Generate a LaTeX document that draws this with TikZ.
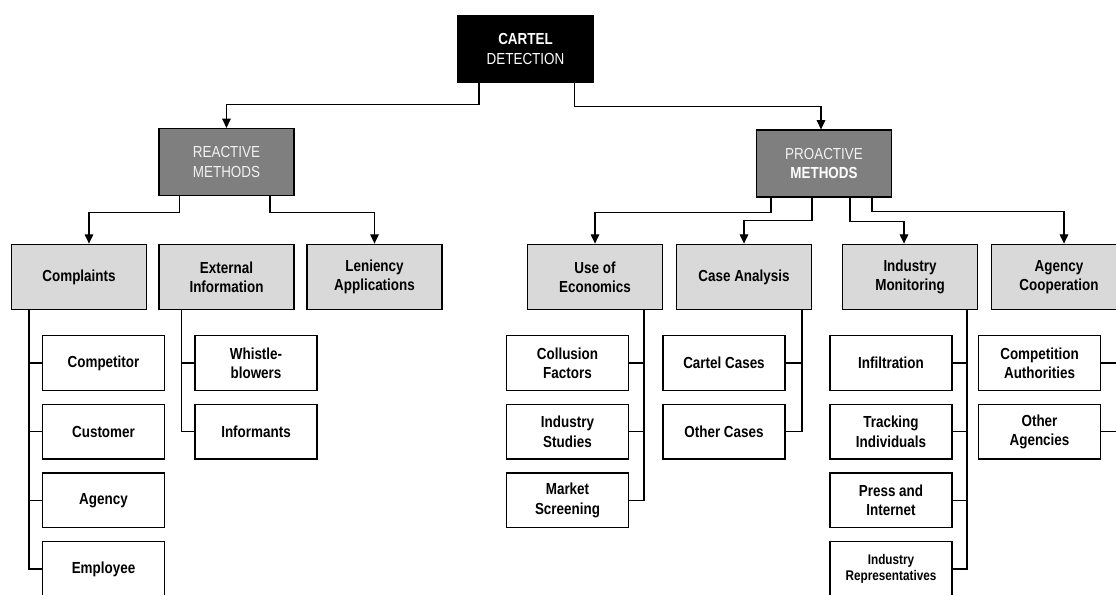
\documentclass[tikz,border=0pt]{standalone}
\usepackage{fontspec}
\setmainfont[FakeStretch=0.84]{Liberation Sans}
\usepackage{tikz}
\usetikzlibrary{positioning, arrows.meta}
\definecolor{methodgray}{HTML}{7F7F7F}
\definecolor{catgray}{HTML}{D9D9D9}
\tikzstyle{base} = [rectangle, draw, line width=1.1pt, align=center, inner sep=2pt, font=\fontsize{12}{14.5}\selectfont]
\tikzstyle{top} = [base, fill=black, text=white, minimum width=101pt, minimum height=50pt]
\tikzstyle{method} = [base, fill=methodgray, text=gray!10, minimum width=101pt, minimum height=50pt]
\tikzstyle{category} = [base, fill=catgray, minimum width=101pt, minimum height=49pt, font=\fontsize{12}{14.5}\selectfont\bfseries]
\tikzstyle{item} = [base, fill=white, minimum width=91.5pt, minimum height=41pt, font=\fontsize{12}{14.5}\selectfont\bfseries]
\tikzstyle{arrow} = [line width=0.8pt, -{Triangle[length=7pt,width=6.5pt]}]
\tikzstyle{branch} = [line width=0.8pt]

\begin{document}
\begin{tikzpicture}[x=0.75pt, y=-0.75pt, node distance=9.4pt]

  \clip (0,0) rectangle (1116,595);

  % Root
  \node (cartel) [top] at (525.5,49) {\textbf{CARTEL}\\DETECTION};

  % Methods
  \node (reactive) [method] at (226.5,162) {REACTIVE\\METHODS};
  \node (proactive) [method] at (824,163.5) {PROACTIVE\\\textbf{\color{white}METHODS}};

  % Reactive categories
  \node (complaints) [category] at (79,277) {Complaints};
  \node (extinfo) [category] at (226.5,277) {External\\Information};
  \node (leniency) [category] at (374.5,277) {Leniency\\Applications};

  % Proactive categories
  \node (economics) [category] at (595,277) {Use of\\Economics};
  \node (caseanalysis) [category] at (744,277) {Case Analysis};
  \node (indmon) [category] at (910,277) {Industry\\Monitoring};
  \node (agencycoop) [category] at (1059,277) {Agency\\Cooperation};

  % Complaints items
  \node (competitor) [item] at (103.5,363) {Competitor};
  \node (customer) [item, below=of competitor] {Customer};
  \node (agency) [item, below=of customer] {Agency};
  \node (employee) [item, below=of agency] {Employee};

  % External information items
  \node (whistle) [item] at (256,363) {Whistle-\\blowers};
  \node (informants) [item, below=of whistle] {Informants};

  % Economics items
  \node (collusion) [item] at (567.5,363) {Collusion\\Factors};
  \node (studies) [item, below=of collusion] {Industry\\Studies};
  \node (screening) [item, below=of studies] {Market\\Screening};

  % Case analysis items
  \node (cartelcases) [item] at (724,363) {Cartel Cases};
  \node (othercases) [item, below=of cartelcases] {Other Cases};

  % Monitoring items
  \node (infiltration) [item] at (891,363) {Infiltration};
  \node (tracking) [item, below=of infiltration] {Tracking\\Individuals};
  \node (press) [item, below=of tracking] {Press and\\Internet};
  \node (representatives) [item, below=of press, font=\fontsize{10.5}{12.5}\selectfont\bfseries] {Industry\\Representatives};

  % Cooperation items
  \node (authorities) [item] at (1039.5,363) {Competition\\Authorities};
  \node (otheragencies) [item, below=of authorities] {Other\\Agencies};

  % Arrows (main flow)
  \draw[arrow] ([xshift=-34.9pt]cartel.south) -- ++(0,21) -| (reactive.north);
  \draw[arrow] ([xshift=36.4pt]cartel.south) -- ++(0,23) -| ([xshift=-2.25pt]proactive.north);

  \draw[arrow] ([xshift=-35.6pt]reactive.south) -- ++(0,16.7) -| ([xshift=7.5pt]complaints.north);
  \draw[arrow] ([xshift=32.6pt]reactive.south) -- ++(0,16.7) -| (leniency.north);

  \draw[arrow] ([xshift=-39.75pt]proactive.south) -- ++(0,15) -| (economics.north);
  \draw[arrow] ([xshift=-9pt]proactive.south) -- ++(0,23) -| (caseanalysis.north);
  \draw[arrow] ([xshift=19.5pt]proactive.south) -- ++(0,24) -| ([xshift=-4.5pt]indmon.north);
  \draw[arrow] ([xshift=36pt]proactive.south) -- ++(0,14) -| ([xshift=3.75pt]agencycoop.north);

  % Branches to items
  \foreach \n in {competitor, customer, agency, employee}
    \draw[branch] ([xshift=-37.5pt]complaints.south) |- (\n.west);
  \foreach \n in {whistle, informants}
    \draw[branch] ([xshift=-34.1pt]extinfo.south) |- (\n.west);
  \foreach \n in {collusion, studies, screening}
    \draw[branch] ([xshift=36.75pt]economics.south) |- (\n.east);
  \foreach \n in {cartelcases, othercases}
    \draw[branch] ([xshift=43.5pt]caseanalysis.south) |- (\n.east);
  \foreach \n in {infiltration, tracking, press, representatives}
    \draw[branch] ([xshift=42.75pt]indmon.south) |- (\n.east);
  \foreach \n in {authorities, otheragencies}
    \draw[branch] ([xshift=45.75pt]agencycoop.south) |- (\n.east);

\end{tikzpicture}
\end{document}
